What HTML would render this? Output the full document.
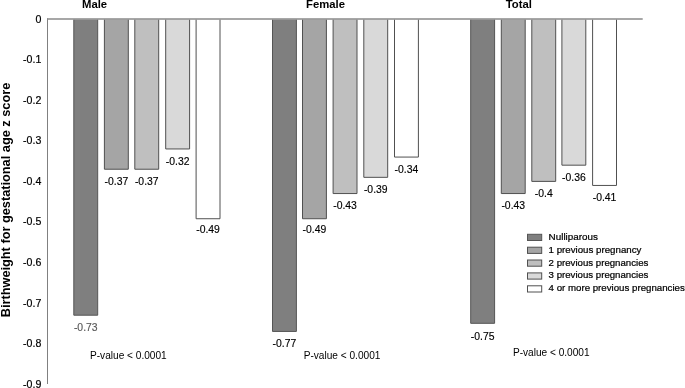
<!DOCTYPE html>
<html><head><meta charset="utf-8"><title>chart</title>
<style>
html,body{margin:0;padding:0;background:#fff;}
svg{display:block;font-family:"Liberation Sans",sans-serif;}
.t{font-weight:bold;font-size:11.3px;fill:#000;}
.v{font-size:10.4px;fill:#000;stroke:#000;stroke-width:0.15px;}
.k{font-size:10.6px;fill:#000;stroke:#000;stroke-width:0.2px;}
.l{font-size:9.6px;fill:#000;stroke:#000;stroke-width:0.22px;}
.p{font-size:10.12px;fill:#000;}
</style></head><body>
<svg width="685" height="388" viewBox="0 0 685 388">
<rect width="685" height="388" fill="#fff"/>

<path d="M73.80 19.5 V315.21 H97.70 V19.5" fill="#7f7f7f" stroke="#555" stroke-width="1"/>
<path d="M104.40 19.5 V169.23 H128.30 V19.5" fill="#a5a5a5" stroke="#505050" stroke-width="1"/>
<path d="M134.80 19.5 V169.23 H158.70 V19.5" fill="#bfbfbf" stroke="#505050" stroke-width="1"/>
<path d="M165.70 19.5 V148.96 H189.60 V19.5" fill="#d9d9d9" stroke="#505050" stroke-width="1"/>
<path d="M196.10 19.5 V218.74 H220.00 V19.5" fill="#ffffff" stroke="#505050" stroke-width="1"/>
<path d="M272.50 19.5 V331.43 H296.40 V19.5" fill="#7f7f7f" stroke="#555" stroke-width="1"/>
<path d="M302.50 19.5 V218.74 H326.40 V19.5" fill="#a5a5a5" stroke="#505050" stroke-width="1"/>
<path d="M333.10 19.5 V193.56 H357.00 V19.5" fill="#bfbfbf" stroke="#505050" stroke-width="1"/>
<path d="M363.80 19.5 V177.34 H387.70 V19.5" fill="#d9d9d9" stroke="#505050" stroke-width="1"/>
<path d="M394.50 19.5 V157.07 H418.40 V19.5" fill="#ffffff" stroke="#505050" stroke-width="1"/>
<path d="M470.70 19.5 V323.32 H494.60 V19.5" fill="#7f7f7f" stroke="#555" stroke-width="1"/>
<path d="M501.30 19.5 V193.56 H525.20 V19.5" fill="#a5a5a5" stroke="#505050" stroke-width="1"/>
<path d="M531.80 19.5 V181.40 H555.70 V19.5" fill="#bfbfbf" stroke="#505050" stroke-width="1"/>
<path d="M561.90 19.5 V165.18 H585.80 V19.5" fill="#d9d9d9" stroke="#505050" stroke-width="1"/>
<path d="M592.60 19.5 V185.45 H616.50 V19.5" fill="#ffffff" stroke="#505050" stroke-width="1"/>
<line x1="47.5" y1="18.4" x2="47.5" y2="384" stroke="#808080" stroke-width="1"/>
<line x1="47" y1="19.1" x2="642.7" y2="19.1" stroke="#8a8a8a" stroke-width="1.5"/>
<text class="k" x="41.3" y="23.00" text-anchor="end">0</text>
<text class="k" x="41.3" y="63.05" text-anchor="end">-0.1</text>
<text class="k" x="41.3" y="103.65" text-anchor="end">-0.2</text>
<text class="k" x="41.3" y="144.25" text-anchor="end">-0.3</text>
<text class="k" x="41.3" y="184.85" text-anchor="end">-0.4</text>
<text class="k" x="41.3" y="225.45" text-anchor="end">-0.5</text>
<text class="k" x="41.3" y="266.05" text-anchor="end">-0.6</text>
<text class="k" x="41.3" y="306.65" text-anchor="end">-0.7</text>
<text class="k" x="41.3" y="347.25" text-anchor="end">-0.8</text>
<text class="k" x="41.3" y="387.85" text-anchor="end">-0.9</text>
<text class="t" x="82.0" y="8.3">Male</text>
<text class="t" x="306.0" y="8.3">Female</text>
<text class="t" x="505.7" y="8.3">Total</text>
<text class="v" x="85.75" y="331" text-anchor="middle" style="fill:#595959;stroke:#595959">-0.73</text>
<text class="v" x="116.35" y="185" text-anchor="middle">-0.37</text>
<text class="v" x="146.75" y="185" text-anchor="middle">-0.37</text>
<text class="v" x="177.65" y="165" text-anchor="middle">-0.32</text>
<text class="v" x="208.05" y="233" text-anchor="middle">-0.49</text>
<text class="v" x="284.45" y="347" text-anchor="middle">-0.77</text>
<text class="v" x="314.45" y="233" text-anchor="middle">-0.49</text>
<text class="v" x="345.05" y="209" text-anchor="middle">-0.43</text>
<text class="v" x="375.75" y="193" text-anchor="middle">-0.39</text>
<text class="v" x="406.45" y="173" text-anchor="middle">-0.34</text>
<text class="v" x="482.65" y="340" text-anchor="middle">-0.75</text>
<text class="v" x="513.25" y="209" text-anchor="middle">-0.43</text>
<text class="v" x="543.75" y="197" text-anchor="middle">-0.4</text>
<text class="v" x="573.85" y="181" text-anchor="middle">-0.36</text>
<text class="v" x="604.55" y="201" text-anchor="middle">-0.41</text>
<text class="p" x="90.0" y="359.0">P-value &lt; 0.0001</text>
<text class="p" x="303.7" y="358.8">P-value &lt; 0.0001</text>
<text class="p" x="512.9" y="355.8">P-value &lt; 0.0001</text>
<rect x="527.5" y="234.30" width="14.2" height="6.2" fill="#7f7f7f" stroke="#555" stroke-width="1"/>
<text class="l" x="548.6" y="240.00" textLength="49.3" lengthAdjust="spacingAndGlyphs">Nulliparous</text>
<rect x="527.5" y="247.20" width="14.2" height="6.2" fill="#a5a5a5" stroke="#505050" stroke-width="1"/>
<text class="l" x="548.6" y="253.00" textLength="92.8" lengthAdjust="spacingAndGlyphs">1 previous pregnancy</text>
<rect x="527.5" y="260.00" width="14.2" height="6.2" fill="#bfbfbf" stroke="#505050" stroke-width="1"/>
<text class="l" x="548.6" y="266.00" textLength="99.8" lengthAdjust="spacingAndGlyphs">2 previous pregnancies</text>
<rect x="527.5" y="272.90" width="14.2" height="6.2" fill="#d9d9d9" stroke="#505050" stroke-width="1"/>
<text class="l" x="548.6" y="278.00" textLength="99.8" lengthAdjust="spacingAndGlyphs">3 previous pregnancies</text>
<rect x="527.5" y="285.80" width="14.2" height="6.2" fill="#ffffff" stroke="#505050" stroke-width="1"/>
<text class="l" x="548.6" y="291.00" textLength="136.2" lengthAdjust="spacingAndGlyphs">4 or more previous pregnancies</text>
<text class="t" transform="translate(10.2,200) rotate(-90)" text-anchor="middle" style="font-size:12.75px">Birthweight for gestational age z score</text>
</svg></body></html>
